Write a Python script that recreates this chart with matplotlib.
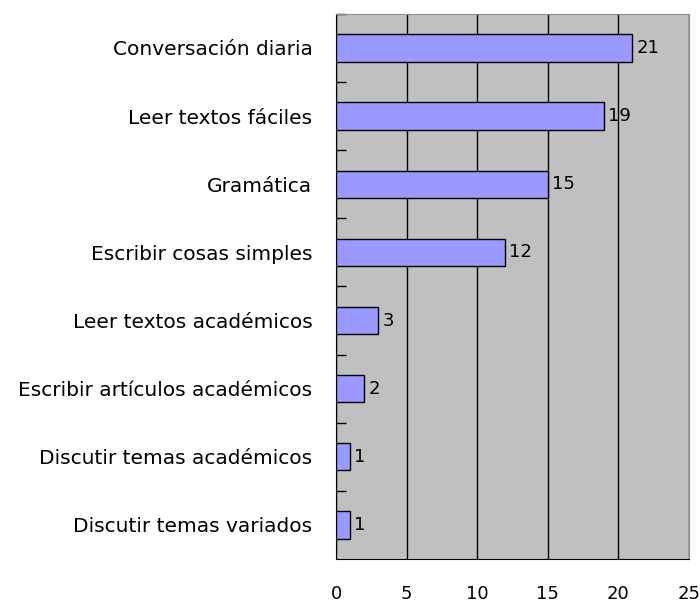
import matplotlib
matplotlib.use('Agg')
import matplotlib.pyplot as plt
import numpy as np

categories = ['Conversación diaria', 'Leer textos fáciles', 'Gramática',
              'Escribir cosas simples', 'Leer textos académicos',
              'Escribir artículos académicos', 'Discutir temas académicos',
              'Discutir temas variados']
values = [21, 19, 15, 12, 3, 2, 1, 1]
xticks = [0, 5, 10, 15, 20, 25]

plt.rcParams['font.family'] = ['DejaVu Sans']
fig = plt.figure(figsize=(7, 6.04), dpi=100)
ax = fig.add_axes([0.48, 0.0745, 0.504, 0.9025])
ax.set_facecolor('#c0c0c0')

n = len(categories)
y = np.arange(n)
ax.barh(y, values, height=0.4, color='#9999ff', edgecolor='black', linewidth=1, zorder=3)
for yi, v in zip(y, values):
    ax.text(v + 0.28, yi, str(v), va='center', ha='left', fontsize=13, zorder=4)

ax.set_xlim(0, 25)
ax.set_ylim(n - 0.5, -0.5)
ax.set_xticks(xticks)
ax.set_xticklabels([str(t) for t in xticks], fontsize=13)
ax.tick_params(axis='x', length=0, pad=18.5)
ax.xaxis.grid(True, color='black', linewidth=1, zorder=1)
ax.set_axisbelow(True)

ax.set_yticks(y)
ax.set_yticklabels(categories, fontsize=14.5)
ax.tick_params(axis='y', which='major', length=0, pad=17)
ax.set_yticks(np.arange(n) - 0.5, minor=True)
ax.tick_params(axis='y', which='minor', direction='in', length=7, width=1, color='black')

ax.spines['left'].set_color('black')
ax.spines['bottom'].set_color('black')
ax.spines['top'].set_color('#909090')
ax.spines['right'].set_color('#909090')

fig.savefig('out.png', dpi=100)
